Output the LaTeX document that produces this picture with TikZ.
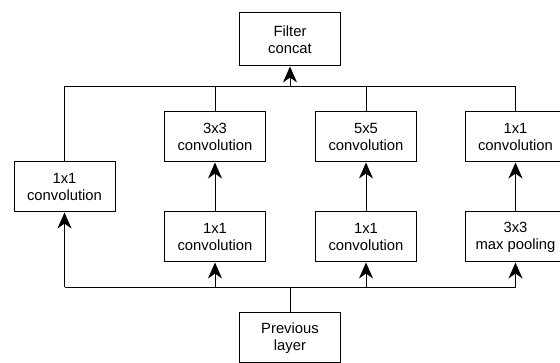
\documentclass[tikz,border=0pt]{standalone}
\usepackage{fontspec}
\setmainfont{Liberation Sans}
\usetikzlibrary{arrows.meta}
\begin{document}
\begin{tikzpicture}[x=1pt,y=-1pt,
  layer/.style={draw, line width=1pt, minimum width=101pt, minimum height=50pt,
    align=center, inner sep=0pt, font=\fontsize{14.8}{16.8}\selectfont},
  wire/.style={line width=1pt},
  flow/.style={wire, -{Stealth[length=16pt,width=14pt,inset=5pt]}}]
\useasboundingbox (0,0) rectangle (560,363);

% layers of the inception module
\node[layer, minimum height=53pt] (concat) at (290,39.5) {Filter\\concat};
\node[layer] (one)  at (64.5,187) {1x1\\convolution};
\node[layer] (c3)   at (215,137)  {3x3\\convolution};
\node[layer] (r3)   at (215,237)  {1x1\\convolution};
\node[layer] (c5)   at (366,137)  {5x5\\convolution};
\node[layer] (r5)   at (366,237)  {1x1\\convolution};
\node[layer] (pp)   at (515.5,137) {1x1\\convolution};
\node[layer] (pool) at (515.5,237) {3x3\\max pooling};
\node[layer] (prev) at (290,338)  {Previous\\layer};

% bus lines
\coordinate (tb) at (290,87);
\coordinate (bb) at (290,287.5);

% input fan-out
\draw[wire] (prev.north) -- (bb);
\draw[wire] (one.south |- bb) -- (pool.south |- bb);
\draw[flow] (one.south |- bb) -- (one.south);
\draw[flow] (r3.south |- bb) -- (r3.south);
\draw[flow] (r5.south |- bb) -- (r5.south);
\draw[flow] (pool.south |- bb) -- (pool.south);

% inner branch arrows
\draw[flow] (r3.north) -- (c3.south);
\draw[flow] (r5.north) -- (c5.south);
\draw[flow] (pool.north) -- (pp.south);

% output fan-in
\draw[wire] (one.north) -- (one.north |- tb) -- (pp.north |- tb) -- (pp.north);
\draw[wire] (c3.north) -- (c3.north |- tb);
\draw[wire] (c5.north) -- (c5.north |- tb);
\draw[flow] (tb) -- (concat.south);
\end{tikzpicture}
\end{document}
